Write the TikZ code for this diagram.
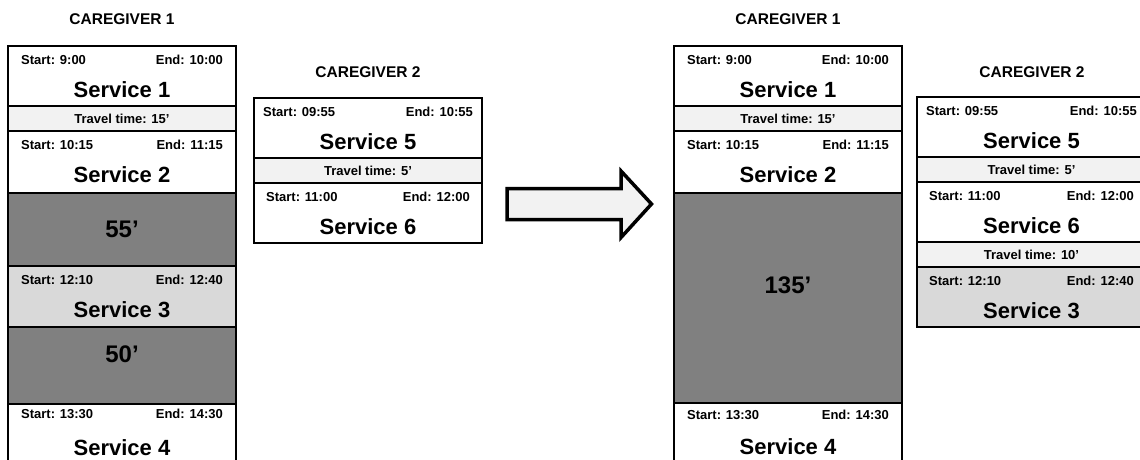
\documentclass[tikz,border=0pt]{standalone}
\usepackage{fontspec}
\setmainfont{Liberation Sans}
\newcommand\lblfont{\bfseries\fontsize{13}{15}\selectfont}
\newcommand\svcfont{\bfseries\fontsize{22}{26}\selectfont}
\newcommand\gapfont{\bfseries\fontsize{24}{28}\selectfont}
\newcommand\ttlfont{\bfseries\fontsize{15.5}{18}\selectfont}
\definecolor{travelfill}{HTML}{F2F2F2}
\definecolor{idlefill}{HTML}{808080}
\definecolor{movedfill}{HTML}{D9D9D9}
\definecolor{arrowfill}{HTML}{F2F2F2}
\tikzset{
  blk/.style={draw, line width=1.1pt, inner sep=0pt, outer sep=0pt, anchor=north west},
  wide/.style={minimum width=228pt},
  svcblk/.style={blk, fill=white},
  travelblk/.style={blk, fill=travelfill, minimum height=25pt},
  idleblk/.style={blk, fill=idlefill},
  movedblk/.style={blk, fill=movedfill},
  lbl/.style={font=\lblfont, inner sep=0pt},
  svc/.style={font=\svcfont, inner sep=0pt, anchor=base},
  gap/.style={font=\gapfont, inner sep=0pt, anchor=base},
  ttl/.style={font=\ttlfont, inner sep=0pt, anchor=base},
}
% a service block: start and end times at the top, service name below
% #1 block, #2 start, #3 end, #4 name, #5 side inset, #6 baseline of the times
\newcommand\svctext[6]{%
  \node[lbl, anchor=base west] (#1st) at ([xshift=#5pt, yshift=-#6pt]#1.north west) {Start: #2};
  \node[lbl, anchor=base east] (#1en) at ([xshift=-#5pt, yshift=-#6pt]#1.north east) {End: #3};
  \node[svc] (#1nm) at ([yshift=-51pt]#1.north) {#4};
}
% travel time centred in its band
\newcommand\traveltext[2]{%
  \node[lbl, anchor=base] (#1x) at ([yshift=-4.6pt]#1.center) {Travel time: #2};
}
\begin{document}
\begin{tikzpicture}[x=1pt, y=-1pt]
\useasboundingbox (0,0) rectangle (1140,459);
\clip (0,0) rectangle (1140,459);

% ---------------- before: caregiver 1 ----------------
\node[ttl] (l1title) at (122,24) {CAREGIVER 1};
\node[svcblk, wide, minimum height=60pt] (l1s1) at (8,46) {};
\node[travelblk, wide] (l1t1) at (8,106) {};
\node[svcblk, wide, minimum height=62pt] (l1s2) at (8,131) {};
\node[idleblk, wide, minimum height=73pt] (l1g1) at (8,193) {};
\node[movedblk, wide, minimum height=61pt] (l1s3) at (8,266) {};
\node[idleblk, wide, minimum height=77pt] (l1g2) at (8,327) {};
\node[svcblk, wide, minimum height=70pt] (l1s4) at (8,404) {};
\svctext{l1s1}{9:00}{10:00}{Service 1}{13}{18.7}
\traveltext{l1t1}{15’}
\svctext{l1s2}{10:15}{11:15}{Service 2}{13}{18.7}
\node[gap] (l1g1x) at (122,237) {55’};
\svctext{l1s3}{12:10}{12:40}{Service 3}{13}{18.7}
\node[gap] (l1g2x) at (122,362) {50’};
\svctext{l1s4}{13:30}{14:30}{Service 4}{13}{14.5}

% ---------------- before: caregiver 2 ----------------
\node[ttl] (l2title) at (368,77.5) {CAREGIVER 2};
\node[svcblk, wide, minimum height=60pt] (l2s5) at (254,98) {};
\node[travelblk, wide] (l2t1) at (254,158) {};
\node[svcblk, wide, minimum height=60pt] (l2s6) at (254,183) {};
\svctext{l2s5}{09:55}{10:55}{Service 5}{9}{18.7}
\traveltext{l2t1}{5’}
\svctext{l2s6}{11:00}{12:00}{Service 6}{12}{18.7}

% ---------------- block arrow ----------------
\draw[line width=3.5pt, fill=arrowfill, miter limit=4]
  (507,188.5) -- (621,188.5) -- (621,171) -- (651.5,204) -- (621,237.5)
  -- (621,219.5) -- (507,219.5) -- cycle;

% ---------------- after: caregiver 1 ----------------
\node[ttl] (r1title) at (788,24) {CAREGIVER 1};
\node[svcblk, wide, minimum height=60pt] (r1s1) at (674,46) {};
\node[travelblk, wide] (r1t1) at (674,106) {};
\node[svcblk, wide, minimum height=62pt] (r1s2) at (674,131) {};
\node[idleblk, wide, minimum height=210pt] (r1g) at (674,193) {};
\node[svcblk, wide, minimum height=70pt] (r1s4) at (674,403) {};
\svctext{r1s1}{9:00}{10:00}{Service 1}{13}{18.7}
\traveltext{r1t1}{15’}
\svctext{r1s2}{10:15}{11:15}{Service 2}{13}{18.7}
\node[gap] (r1gx) at (788,293.5) {135’};
\svctext{r1s4}{13:30}{14:30}{Service 4}{13}{16}

% ---------------- after: caregiver 2 ----------------
\node[ttl] (r2title) at (1032,77.5) {CAREGIVER 2};
\tikzset{wide/.style={minimum width=229pt}}
\node[svcblk, wide, minimum height=60pt] (r2s5) at (917,97) {};
\node[travelblk, wide] (r2t1) at (917,157) {};
\node[svcblk, wide, minimum height=60pt] (r2s6) at (917,182) {};
\node[travelblk, wide] (r2t2) at (917,242) {};
\node[movedblk, wide, minimum height=60pt] (r2s3) at (917,267) {};
\svctext{r2s5}{09:55}{10:55}{Service 5}{9}{18.7}
\traveltext{r2t1}{5’}
\svctext{r2s6}{11:00}{12:00}{Service 6}{12}{18.7}
\traveltext{r2t2}{10’}
\svctext{r2s3}{12:10}{12:40}{Service 3}{12}{18.7}
\end{tikzpicture}
\end{document}
